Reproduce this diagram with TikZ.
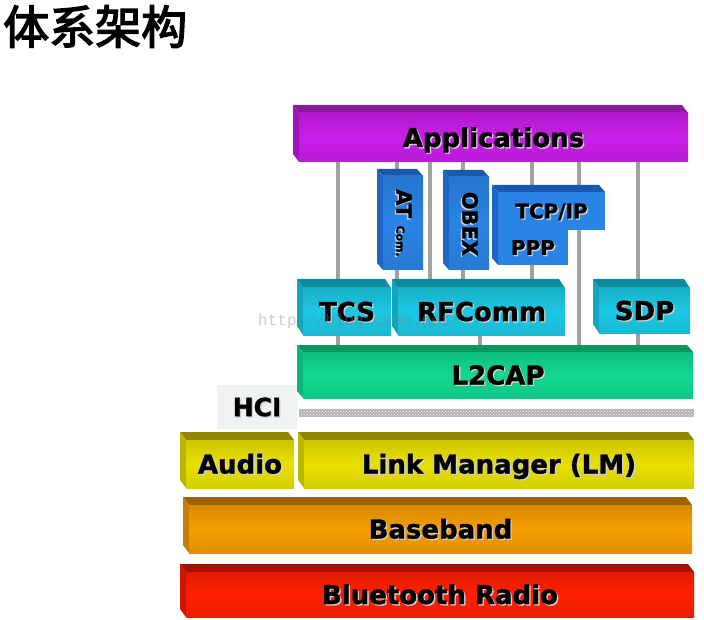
\documentclass[tikz,border=0pt]{standalone}
\usepackage{fontspec}
\setmainfont{DejaVu Sans}[BoldFeatures={FakeBold=1.3}]
\newfontfamily\cjk[FakeBold=3]{Noto Sans CJK SC}
\newfontfamily\wmfont{Liberation Mono}
\usetikzlibrary{patterns,calc}
\pgfdeclarelayer{back}\pgfdeclarelayer{bg}\pgfsetlayers{back,bg,main}
\definecolor{puf}{HTML}{C81EE8}\definecolor{put}{HTML}{8C1A9C}\definecolor{pus}{HTML}{A014BA}
\definecolor{blf}{HTML}{2A84E6}\definecolor{blt}{HTML}{1A58AC}\definecolor{bls}{HTML}{1E66C2}
\definecolor{cyf}{HTML}{1CC8E4}\definecolor{cyt}{HTML}{0E8C9E}\definecolor{cys}{HTML}{12A6BE}
\definecolor{grf}{HTML}{12D890}\definecolor{grt}{HTML}{0A9460}\definecolor{grs}{HTML}{0CB476}
\definecolor{yef}{HTML}{E8E000}\definecolor{yet}{HTML}{8E8800}\definecolor{yes}{HTML}{BCB600}
\definecolor{orf}{HTML}{F49E00}\definecolor{ort}{HTML}{9C6400}\definecolor{ors}{HTML}{C67E00}
\definecolor{rdf}{HTML}{FF2000}\definecolor{rdt}{HTML}{A81000}\definecolor{rds}{HTML}{D01400}
\definecolor{hcig}{HTML}{EEF3EF}
\definecolor{linegray}{HTML}{A0A0A0}
\newcommand\shd[1]{\rlap{\kern1.3pt\raisebox{-1.3pt}{\textcolor{black!18}{#1}}}#1}
\tikzset{
  face/.style={inner sep=0pt, outer sep=0pt, font=\fontsize{26}{26}\selectfont\bfseries,
    text height=19pt, text depth=0pt},
  conn/.style={draw=linegray, line width=3.5pt},
}
% name, x0, y0, x1, y1, colour prefix, depth, label
\newcommand\blk[8]{%
  \fill[#6t] (#2,#3) -- ({#4-6},#3) -- (#4,{#3+#7}) -- ({#2+6},{#3+#7}) -- cycle;
  \fill[#6s] (#2,#3) -- ({#2+6},{#3+#7}) -- ({#2+6},#5) -- (#2,{#5-#7}) -- cycle;
  \node[face, top color=#6f!88!black, bottom color=#6f!92!black, middle color=#6f,
    minimum width={#4-#2-6}, minimum height={#5-#3-#7}, anchor=north west]
    (#1) at ({#2+6},{#3+#7}) {\shd{#8}};
}
\begin{document}
\begin{tikzpicture}[x=1pt,y=-1pt]
\useasboundingbox (0,0) rectangle (704,620);
\begin{pgfonlayer}{back}
  \fill[white] (0,0) rectangle (704,620);
\end{pgfonlayer}

\node[anchor=base west, inner sep=0pt, font=\cjk\fontsize{46}{46}\selectfont] (title) at (3,44) {体系架构};

% blocks
\blk{app}{293}{105}{688}{162}{pu}{8}{Applications}
\blk{at}{377}{169}{423}{270}{bl}{7}{}
\blk{obex}{443}{170}{489}{270}{bl}{7}{}
\fill[blt] (492,185) -- (599,185) -- (605,192) -- (498,192) -- cycle;
\fill[bls] (492,185) -- (498,192) -- (498,265) -- (492,258) -- cycle;
\node[face, fill=blf, font=\fontsize{20}{20}\selectfont\bfseries, text height=14.6pt,
  minimum width=107, minimum height=38, anchor=north west] (tcp) at (498,192) {\shd{TCP/IP}};
\node[face, fill=blf, font=\fontsize{20}{20}\selectfont\bfseries, text height=14.6pt,
  minimum width=70, minimum height=35, anchor=north west] (ppp) at (498,230) {\shd{PPP}};
\node[face, rotate=-90, font=\fontsize{21}{21}\selectfont\bfseries, text height=15.3pt]
  (atl) at (404,223) {\shd{AT {\fontsize{11}{11}\selectfont Com.}}};
\node[face, rotate=-90, font=\fontsize{21}{21}\selectfont\bfseries, text height=15.3pt]
  (obexl) at (470,224) {\shd{OBEX}};

\blk{tcs}{297}{279}{391}{335}{cy}{9}{TCS}
\blk{rfcomm}{392}{279}{565}{335}{cy}{9}{RFComm}
\blk{sdp}{593}{279}{690}{333}{cy}{9}{SDP}

\node[face, fill=hcig, font=\fontsize{25}{25}\selectfont\bfseries, text height=18.2pt,
  minimum width=80, minimum height=44, anchor=north west] (hci) at (217,385) {\shd{HCI}};
\blk{l2cap}{297}{345}{693}{398}{gr}{7}{L2CAP}
\fill[gray!60, postaction={pattern=crosshatch dots, pattern color=white}] (299,409) rectangle (694,417);

\blk{audio}{180}{432}{294}{488}{ye}{8}{Audio}
\blk{lm}{298}{432}{694}{488}{ye}{8}{Link Manager (LM)}
\blk{baseband}{183}{497}{692}{553}{or}{8}{Baseband}
\blk{radio}{180}{564}{694}{617}{rd}{8}{Bluetooth Radio}

% connectors
\begin{pgfonlayer}{bg}
  \draw[conn] (338,0 |- app.south) -- (338,0 |- l2cap.north);
  \draw[conn] (397,0 |- app.south) -- (397,0 |- rfcomm.north);
  \draw[conn] (430,0 |- app.south) -- (430,0 |- rfcomm.north);
  \draw[conn] (463,0 |- app.south) -- (463,0 |- rfcomm.north);
  \draw[conn] (532,0 |- app.south) -- (532,0 |- rfcomm.north);
  \draw[conn] (579,0 |- app.south) -- (579,0 |- l2cap.north);
  \draw[conn] (638,0 |- app.south) -- (638,0 |- l2cap.north);
  \draw[conn] (480,0 |- rfcomm.south) -- (480,0 |- l2cap.north);
\end{pgfonlayer}

\node[anchor=base west, inner sep=0pt, font=\wmfont\fontsize{16}{16}\selectfont,
  text=gray, opacity=0.4] (wm) at (258,325) {http://blog.csdn.net/};
\end{tikzpicture}
\end{document}
